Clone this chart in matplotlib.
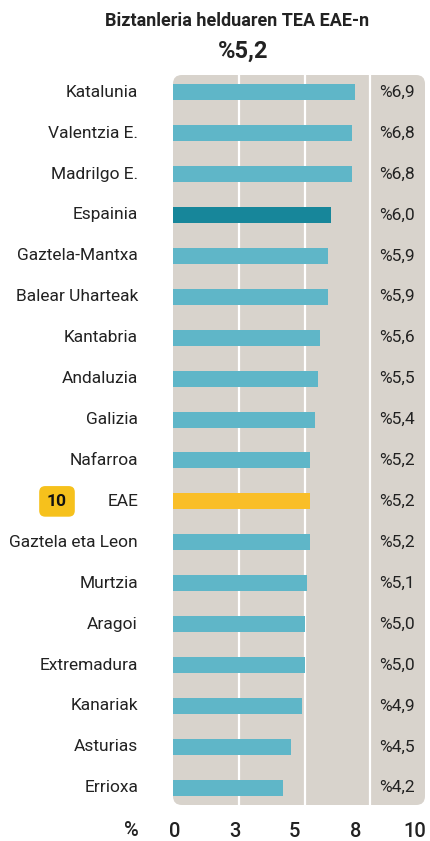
import matplotlib
matplotlib.use("Agg")
import matplotlib.pyplot as plt
from matplotlib.patches import FancyBboxPatch

# ── Data ──────────────────────────────────────────────────────────────────────
regions = ["Katalunia", "Valentzia E.", "Madrilgo E.", "Espainia", "Gaztela-Mantxa",
           "Balear Uharteak", "Kantabria", "Andaluzia", "Galizia", "Nafarroa", "EAE",
           "Gaztela eta Leon", "Murtzia", "Aragoi", "Extremadura", "Kanariak",
           "Asturias", "Errioxa"]
rates = [6.9, 6.8, 6.8, 6.0, 5.9, 5.9, 5.6, 5.5, 5.4, 5.2, 5.2, 5.2, 5.1, 5.0, 5.0, 4.9, 4.5, 4.2]
rate_labels = ["%6,9", "%6,8", "%6,8", "%6,0", "%5,9", "%5,9", "%5,6", "%5,5", "%5,4",
               "%5,2", "%5,2", "%5,2", "%5,1", "%5,0", "%5,0", "%4,9", "%4,5", "%4,2"]
tick_labels = ["0", "3", "5", "8", "10"]
eae_rank = "10"

title = "Biztanleria helduaren TEA EAE-n"
headline = "%5,2"

# ── Style ─────────────────────────────────────────────────────────────────────
plt.rcParams['font.family'] = ['Roboto', 'DejaVu Sans']
BAR = "#5fb6c8"
SPAIN = "#17869a"
EAE = "#f9be28"
PANEL = "#d8d3cc"
TXT = "#222222"

W, H = 430, 841
fig = plt.figure(figsize=(W / 100, H / 100), dpi=100)
x0, x1 = 173, 425
y_top, y_bot = 75, 805
ax = fig.add_axes([x0 / W, 1 - y_bot / H, (x1 - x0) / W, (y_bot - y_top) / H])
ax.set_xlim(0, 9.58)
n = len(regions)
ax.set_ylim(n - 1 + 0.42, -0.42)
ax.patch.set_visible(False)
for s in ax.spines.values():
    s.set_visible(False)

# rounded panel
ax.add_patch(FancyBboxPatch((0, 0), 1, 1, boxstyle="round,pad=0,rounding_size=0.035",
                            transform=ax.transAxes, fc=PANEL, ec="none", zorder=0,
                            mutation_aspect=252 / 730))
for gx in [2.5, 5.0, 7.5]:
    ax.axvline(gx, color="white", lw=1.6, zorder=1)

colors = []
for r in regions:
    if r == "Espainia":
        colors.append(SPAIN)
    elif r == "EAE":
        colors.append(EAE)
    else:
        colors.append(BAR)
ys = list(range(n))
ax.barh(ys, rates, height=0.39, color=colors, zorder=2)

for i, (r, lab) in enumerate(zip(regions, rate_labels)):
    ax.text(9.2, i, lab, ha="right", va="center", fontsize=12.5, color=TXT)
    ax.text(-1.33, i, r, ha="right", va="center", fontsize=12.5, color=TXT, clip_on=False)

eae_i = regions.index("EAE")
ax.text(-4.41, eae_i, eae_rank, ha="center", va="center", fontsize=12.5,
        fontweight="bold", color="#111111", clip_on=False,
        bbox=dict(boxstyle="round,pad=0.45,rounding_size=0.35", fc="#f6c11c", ec="none"))

ax.set_yticks([])
ax.set_xticks([0.05, 2.36, 4.6, 6.96, 9.2])
ax.set_xticklabels(tick_labels, fontsize=14.5, fontweight="medium", color=TXT)
ax.tick_params(axis="x", length=0, pad=12)

fig.text(131 / W, 1 - 831 / H, "%", ha="center", va="center", fontsize=14.5,
         fontweight="medium", color=TXT)
fig.text(237 / W, 1 - 21 / H, title, ha="center", va="center", fontsize=13,
         fontweight="bold", color=TXT)
fig.text(243 / W, 1 - 51 / H, headline, ha="center", va="center", fontsize=17,
         fontweight="bold", color=TXT)

fig.savefig("out.png", dpi=100)
